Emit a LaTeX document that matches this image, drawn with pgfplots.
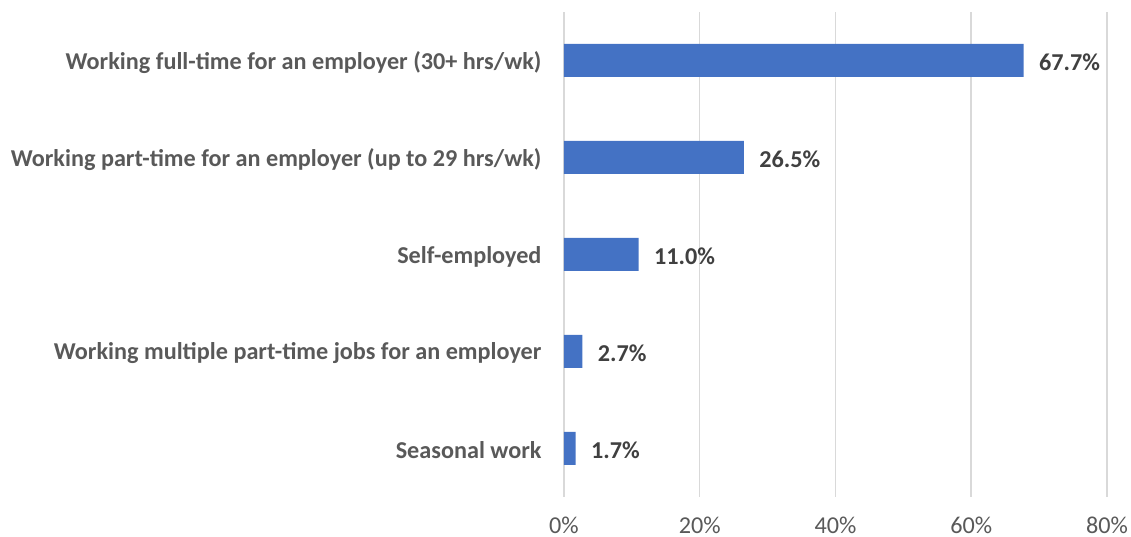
\documentclass[border=0pt]{standalone}
\usepackage{pgfplots}
\pgfplotsset{compat=1.18}
\usepackage{fontspec}
\setmainfont{Carlito}
\definecolor{barblue}{HTML}{4472C4}
\definecolor{gridgray}{HTML}{D9D9D9}
\definecolor{labgray}{HTML}{595959}
\definecolor{datgray}{HTML}{404040}
\begin{document}
\begin{tikzpicture}
\begin{axis}[
  xbar, scale only axis, width=543bp, height=485bp,
  xmin=0, xmax=80, ymin=-0.5, ymax=4.5,
  ytick={0,1,2,3,4},
  yticklabels={Seasonal work, Working multiple part-time jobs for an employer, Self-employed, Working part-time for an employer (up to 29 hrs/wk), Working full-time for an employer (30+ hrs/wk)},
  xtick={0,20,40,60,80},
  xticklabel={\pgfmathprintnumber{\tick}\%},
  xmajorgrids, grid style={draw=gridgray, line width=1.5bp},
  axis line style={draw=none}, major tick length=0,
  bar width=33bp,
  point meta=x,
  nodes near coords={\pgfmathprintnumber[fixed,fixed zerofill,precision=1]{\pgfplotspointmeta}\%},
  nodes near coords style={font=\fontsize{24.3}{28}\selectfont\bfseries, text=datgray, xshift=12bp, yshift=-2bp},
  yticklabel style={font=\fontsize{24.3}{28}\selectfont\bfseries, text=labgray, xshift=-19bp, yshift=-2bp},
  xticklabel style={font=\fontsize{24.3}{28}\selectfont, text=labgray, yshift=-16bp},
  /pgf/number format/assume math mode=true,
]
\addplot[fill=barblue, draw=none] coordinates {(1.7,0) (2.7,1) (11.0,2) (26.5,3) (67.7,4)};
\end{axis}
\pgfresetboundingbox
\path[use as bounding box] ([shift={(-564bp,-40bp)}]current axis.south west) rectangle ([shift={(567bp,497bp)}]current axis.south west);
\end{tikzpicture}
\end{document}
